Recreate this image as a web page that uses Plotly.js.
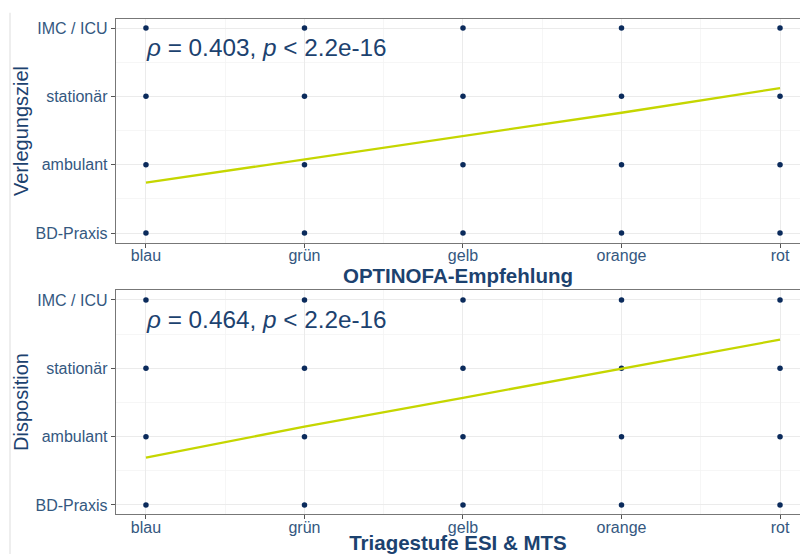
<!DOCTYPE html>
<html>
<head>
<meta charset="utf-8">
<script src="https://cdn.plot.ly/plotly-3.0.1.min.js"></script>
<style>html,body{margin:0;padding:0;background:#fff;}#chart{width:800px;height:554px;}</style>
</head>
<body>
<div id="chart"></div>
<script>
// Categories
const xCategories = ["blau", "grün", "gelb", "orange", "rot"];
const yCategories = ["BD-Praxis", "ambulant", "stationär", "IMC / ICU"];
const xPos = [1, 2, 3, 4, 5];
const yPos = [1, 2, 3, 4];

// Fitted trend lines (in y-category units)
const lineTopY = [1.736, 2.08, 2.42, 2.76, 3.12];
const lineBottomY = [1.693, 2.146, 2.569, 3.0, 3.42];

// Annotation texts
const rhoTop = "0.403";
const rhoBottom = "0.464";
const pText = "2.2e-16";

const xTitleTop = "OPTINOFA-Empfehlung";
const xTitleBottom = "Triagestufe ESI &amp; MTS";
const yTitleTop = "Verlegungsziel";
const yTitleBottom = "Disposition";

// grid points (every combination of categories)
const gridX = [], gridY = [];
xPos.forEach(x => yPos.forEach(y => { gridX.push(x); gridY.push(y); }));

const pointColor = "#0b2b5c";
const lineColor = "#c5d600";
const textColor = "#1c426f";
const tickColor = "#34587f";
const font = "Liberation Sans, Arial, sans-serif";

const traces = [
  {x: gridX, y: gridY, type: "scatter", mode: "markers", marker: {size: 5.5, color: pointColor}, xaxis: "x", yaxis: "y", hoverinfo: "skip"},
  {x: xPos, y: lineTopY, type: "scatter", mode: "lines", line: {color: lineColor, width: 2.3}, xaxis: "x", yaxis: "y"},
  {x: gridX, y: gridY, type: "scatter", mode: "markers", marker: {size: 5.5, color: pointColor}, xaxis: "x2", yaxis: "y2", hoverinfo: "skip"},
  {x: xPos, y: lineBottomY, type: "scatter", mode: "lines", line: {color: lineColor, width: 2.3}, xaxis: "x2", yaxis: "y2"}
];

function xAxis(anchor, title) {
  return {
    anchor: anchor, domain: [0.145, 1], range: [0.811, 5.126],
    tickmode: "array", tickvals: xPos, ticktext: xCategories,
    showgrid: true, gridcolor: "#ebebeb", gridwidth: 1,
    minor: {tickmode: "array", tickvals: [1.5, 2.5, 3.5, 4.5], showgrid: true, gridcolor: "#f4f4f4", gridwidth: 0.8, ticks: ""},
    zeroline: false, showline: true, mirror: true, linecolor: "#777", linewidth: 1.3,
    ticks: "outside", ticklen: 4, tickcolor: "#555", tickwidth: 1,
    ticklabelstandoff: -6,
    tickfont: {family: font, size: 16, color: tickColor},
    title: {text: "<b>" + title + "</b>", font: {family: font, size: 20.5, color: textColor}, standoff: 0}
  };
}
function yAxis(anchor, domain, range, title) {
  return {
    anchor: anchor, domain: domain, range: range,
    tickmode: "array", tickvals: yPos, ticktext: yCategories,
    showgrid: true, gridcolor: "#ebebeb", gridwidth: 1,
    minor: {tickmode: "array", tickvals: [1.5, 2.5, 3.5], showgrid: true, gridcolor: "#f4f4f4", gridwidth: 0.8, ticks: ""},
    zeroline: false, showline: true, mirror: false, linecolor: "#777", linewidth: 1.3,
    ticks: "outside", ticklen: 4, tickcolor: "#555", tickwidth: 1,
    tickfont: {family: font, size: 16, color: tickColor},
    title: {text: title, font: {family: font, size: 20, color: textColor}, standoff: 1}
  };
}

const layout = {
  width: 800, height: 554,
  margin: {l: 0, r: 0, t: 0, b: 0},
  paper_bgcolor: "#ffffff", plot_bgcolor: "#ffffff",
  showlegend: false,
  xaxis: xAxis("y", xTitleTop),
  yaxis: yAxis("x", [0.5614, 0.9657], [0.854, 4.132], yTitleTop),
  xaxis2: xAxis("y2", xTitleBottom),
  yaxis2: yAxis("x2", [0.0722, 0.4765], [0.868, 4.146], yTitleBottom),
  annotations: [
    {xref: "x", yref: "y", x: 0.99, y: 3.72, xanchor: "left", yanchor: "middle", showarrow: false,
     text: "<i>ρ</i> = " + rhoTop + ", <i>p</i> < " + pText, font: {family: font, size: 24.3, color: textColor}},
    {xref: "x2", yref: "y2", x: 0.99, y: 3.72, xanchor: "left", yanchor: "middle", showarrow: false,
     text: "<i>ρ</i> = " + rhoBottom + ", <i>p</i> < " + pText, font: {family: font, size: 24.3, color: textColor}}
  ],
  shapes: [
    {type: "line", xref: "paper", yref: "paper", x0: 0.0125, x1: 0.0125, y0: 0, y1: 0.977, line: {color: "#dddddd", width: 1}}
  ]
};

Plotly.newPlot("chart", traces, layout, {displayModeBar: false, staticPlot: true});
</script>
</body>
</html>
